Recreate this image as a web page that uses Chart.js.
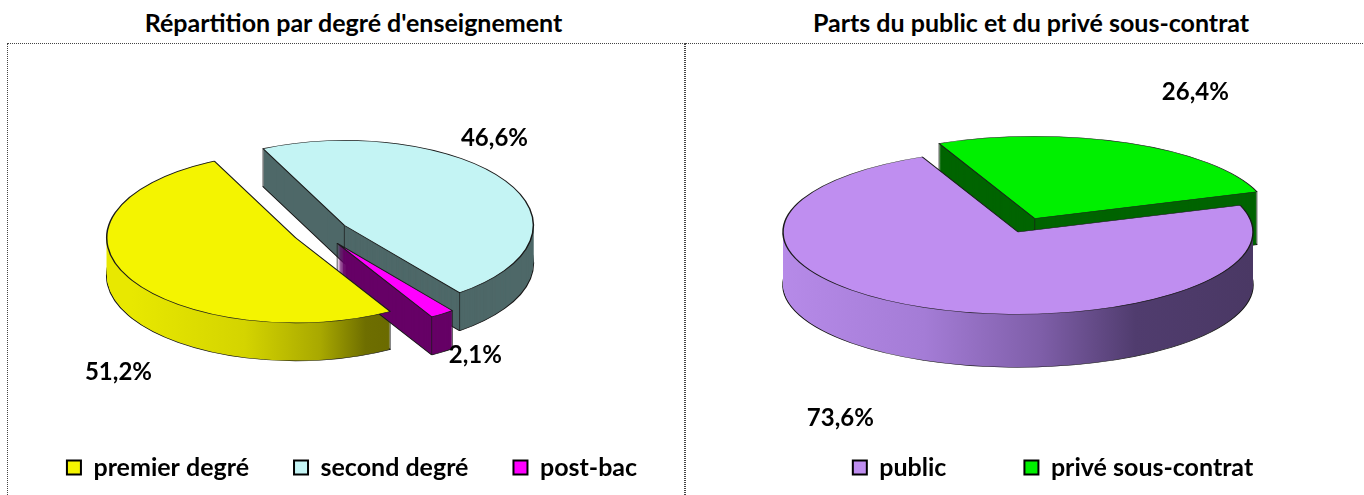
<!DOCTYPE html>
<html>
<head>
<meta charset="utf-8">
<script src="https://cdn.jsdelivr.net/npm/chart.js@4/dist/chart.umd.min.js"></script>
<style>
  html, body { margin: 0; padding: 0; background: #fff; overflow: hidden; }
  body { width: 1364px; height: 495px; position: relative; font-family: Lato, "Open Sans", sans-serif; }
  .title { position: absolute; top: 8px; height: 28px; line-height: 28px; text-align: center;
           font-weight: bold; font-size: 25px; color: #000; white-space: nowrap; }
  .box { position: absolute; top: 43px; height: 520px; border: 1px dotted #444; }
  .chartWrap { position: absolute; top: 44px; height: 446px; }
</style>
</head>
<body>
<div class="title" style="left:0;width:707px">Répartition par degré d'enseignement</div>
<div class="title" style="left:698px;width:666px">Parts du public et du privé sous-contrat</div>
<div class="box" style="left:7px;width:676px"></div>
<div class="box" style="left:685px;width:720px"></div>
<div class="chartWrap" style="left:8px;width:676px"><canvas id="degre"></canvas></div>
<div class="chartWrap" style="left:685px;width:679px"><canvas id="secteur"></canvas></div>
<script>
// data
const degreLabels = ["premier degré", "second degré", "post-bac"];
const degreValues = [51.2, 46.6, 2.1];
const secteurLabels = ["public", "privé sous-contrat"];
const secteurValues = [73.6, 26.4];

const degreColors = ["#f4f400", "#c4f4f4", "#ff00ff"];
const secteurColors = ["#bf8ef0", "#00f000"];

const pct = (v) => v.toFixed(1).replace(".", ",") + "%";

// fake 3D pie: squash the library's arcs and extrude them downwards
const pie3d = {
  id: "pie3d",
  beforeDatasetsDraw(chart, args, o) {
    const ctx = chart.ctx;
    const arcs = chart.getDatasetMeta(0).data;
    if (!arcs.length) return;
    const cx = arcs[0].x, cy = arcs[0].y, R = arcs[0].outerRadius;
    const k = o.tilt;
    ctx.save();
    ctx.translate(cx + o.shiftX, cy);
    ctx.scale(1, k);
    ctx.translate(-cx, -cy);

    const slices = arcs.map((arc, i) => {
      const mid = (arc.startAngle + arc.endAngle) / 2;
      const e = o.explode[i] || 0;
      return { arc, i, mid, dx: Math.cos(mid) * e, dy: Math.sin(mid) * e };
    });
    const part = (s, dy, fill, bw) => {
      const p = Object.create(s.arc);
      p.x = s.arc.x + s.dx;
      p.y = s.arc.y + s.dy + dy;
      p.options = Object.assign({}, s.arc.options, {
        offset: 0, spacing: 0, backgroundColor: fill,
        borderColor: o.edge, borderWidth: bw, borderAlign: "center"
      });
      s.arc.draw.call(p, ctx);
    };
    const paint = (i) => {
      const c = o.side[i];
      if (!Array.isArray(c)) return c;
      const g = ctx.createLinearGradient(cx - R, 0, cx + R, 0);
      c.forEach(([pos, col]) => g.addColorStop(pos, col));
      return g;
    };

    const order = slices.slice().sort((a, b) => Math.sin(a.mid) - Math.sin(b.mid));
    order.forEach((s) => {
      const fill = paint(s.i);
      part(s, o.depth / k, fill, 1.5);
      for (let d = o.depth - 1; d >= 1; d--) part(s, d / k, fill, 0);
      const x0 = s.arc.x + s.dx, y0 = s.arc.y + s.dy;
      const pts = [[x0, y0],
        [x0 + R * Math.cos(s.arc.startAngle), y0 + R * Math.sin(s.arc.startAngle)],
        [x0 + R * Math.cos(s.arc.endAngle), y0 + R * Math.sin(s.arc.endAngle)]];
      ctx.beginPath();
      pts.forEach(([px, py]) => { ctx.moveTo(px, py); ctx.lineTo(px, py + o.depth / k); });
      ctx.lineWidth = 1;
      ctx.strokeStyle = o.edge;
      ctx.stroke();
    });
    order.forEach((s) => part(s, 0, s.arc.options.backgroundColor, 1.5));
    ctx.restore();
    return false;
  },
  afterDraw(chart, args, o) {
    const ctx = chart.ctx;
    const arcs = chart.getDatasetMeta(0).data;
    const vals = chart.data.datasets[0].data;
    ctx.save();
    ctx.font = "bold 24px Lato";
    ctx.fillStyle = "#000";
    ctx.textAlign = "center";
    ctx.textBaseline = "middle";
    arcs.forEach((arc, i) => {
      const mid = (arc.startAngle + arc.endAngle) / 2;
      const r = arc.outerRadius + (o.explode[i] || 0);
      const x = arc.x + o.shiftX + Math.cos(mid) * r + o.nudge[i][0];
      const y = arc.y + Math.sin(mid) * r * o.tilt + o.nudge[i][1];
      ctx.fillText(pct(vals[i]), x, y);
    });
    ctx.restore();
  }
};

function makePie(id, labels, values, colors, opts) {
  return new Chart(document.getElementById(id), {
    type: "pie",
    data: {
      labels: labels,
      datasets: [{ data: values, backgroundColor: colors, borderColor: "#222", borderWidth: 1, clip: false }]
    },
    options: {
      responsive: true,
      maintainAspectRatio: false,
      animation: false,
      radius: opts.radius,
      rotation: opts.rotation,
      layout: { padding: opts.padding },
      plugins: {
        tooltip: { enabled: false },
        legend: {
          position: "bottom",
          labels: {
            boxWidth: 14,
            boxHeight: 14,
            padding: opts.legendGap,
            color: "#000",
            font: { family: "Lato", weight: "bold", size: 25 },
            generateLabels: (chart) => chart.data.labels.map((t, i) => ({
              text: t,
              fillStyle: chart.data.datasets[0].backgroundColor[i],
              strokeStyle: "#000",
              lineWidth: 2,
              fontColor: "#000",
              hidden: false,
              index: i
            }))
          }
        },
        pie3d: opts.pie3d
      }
    },
    plugins: [pie3d]
  });
}

makePie("degre", degreLabels, degreValues, degreColors, {
  radius: 189,
  rotation: 150,
  padding: { left: 12, top: 10 },
  legendGap: 45,
  pie3d: {
    tilt: 0.45, depth: 38, shiftX: -31.5, edge: "#1a1a1a",
    explode: [28, 28, 30],
    side: [
      [[0, "#e8e800"], [0.3, "#d4d400"], [0.5, "#a8a800"], [0.62, "#6e6e00"], [1, "#5a5a00"]],
      "#4e6868",
      "#660066"
    ],
    nudge: [[-10, 95], [-11, -43], [33, 41]]
  }
});

makePie("secteur", secteurLabels, secteurValues, secteurColors, {
  radius: 235,
  rotation: 71,
  padding: { left: 57, top: 43 },
  legendGap: 78,
  pie3d: {
    tilt: 0.35, depth: 53, shiftX: -35, edge: "#1a1a1a",
    explode: [0, 42],
    side: [
      [[0, "#b68ae8"], [0.3, "#a47cd6"], [0.55, "#7e5ea8"], [0.75, "#503c6e"], [1, "#4a3864"]],
      "#006400"
    ],
    nudge: [[-84, 111], [67, -51]]
  }
});
</script>
</body>
</html>
